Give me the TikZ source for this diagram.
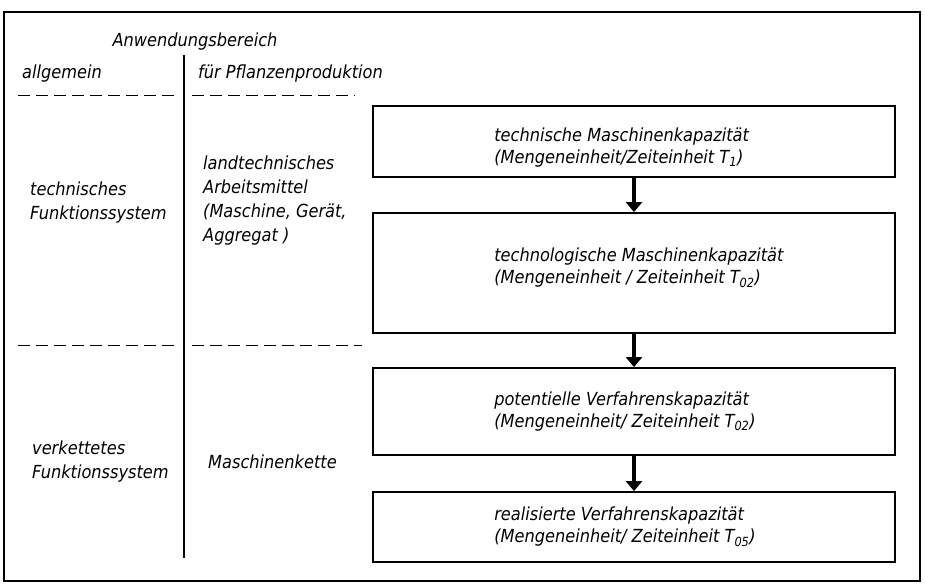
\documentclass[tikz,border=0pt]{standalone}
\usepackage{fontspec}
\setmainfont{DejaVu Sans Condensed}
\usetikzlibrary{positioning,arrows.meta}

\begin{document}
\begin{tikzpicture}[x=1pt,y=-1pt,
  every node/.style={font=\itshape\fontsize{18}{24}\selectfont},
  kap/.style={draw,line width=1.8pt,minimum width=522pt},
  kaptxt/.style={anchor=west,align=left,inner sep=0pt,
    font=\itshape\fontsize{18}{22}\selectfont},
  txt/.style={anchor=west,align=left,inner sep=0pt},
  sep/.style={dashed,dash pattern=on 12pt off 6pt,line width=1pt},
  flow/.style={line width=4pt,-{Triangle[width=16pt,length=10pt]}}]
  \useasboundingbox (0,0) rectangle (925,585);
  \draw[line width=1.3pt] (4,12) rectangle (920,581);
  % column heads
  \node (bereich) at (195,42) {Anwendungsbereich};
  \node[txt] (allg) at (22,74) {allgemein};
  \node[txt] (pflanz) at (198,74) {für Pflanzenproduktion};
  \draw[line width=1.2pt] (184,55) -- (184,558);
  \draw[sep] (18,96) -- (177,96) (192,96) -- (355,96);
  \draw[sep] (18,345) -- (180,345) (192,345) -- (362,345);
  % left side
  \node[txt] (tfs) at (30,203) {technisches\\Funktionssystem};
  \node[txt] (mittel) at (203,201) {landtechnisches\\Arbeitsmittel\\(Maschine, Gerät,\\Aggregat )};
  \node[txt] (vfs) at (32,462) {verkettetes\\Funktionssystem};
  \node[txt] (kette) at (208,462) {Maschinenkette};
  % capacities
  \node[kap,minimum height=71pt] (k1) at (634,141.5) {};
  \node[kap,minimum height=120pt] (k2) at (634,273) {};
  \node[kap,minimum height=87pt] (k3) at (634,411.5) {};
  \node[kap,minimum height=70pt] (k4) at (634,527) {};
  \node[kaptxt,right=122pt of k1.west,yshift=-6pt] (t1)
    {technische Maschinenkapazität\\(Mengeneinheit/Zeiteinheit \textit{T}\textsubscript{1})};
  \node[kaptxt,right=122pt of k2.west,yshift=5pt] (t2)
    {technologische Maschinenkapazität\\(Mengeneinheit / Zeiteinheit \textit{T}\textsubscript{02})};
  \node[kaptxt,right=122pt of k3.west] (t3)
    {potentielle Verfahrenskapazität\\(Mengeneinheit/ Zeiteinheit \textit{T}\textsubscript{02})};
  \node[kaptxt,right=122pt of k4.west] (t4)
    {realisierte Verfahrenskapazität\\(Mengeneinheit/ Zeiteinheit \textit{T}\textsubscript{05})};
  \draw[flow] (k1.south) -- (k2.north);
  \draw[flow] (k2.south) -- (k3.north);
  \draw[flow] (k3.south) -- (k4.north);
\end{tikzpicture}
\end{document}
